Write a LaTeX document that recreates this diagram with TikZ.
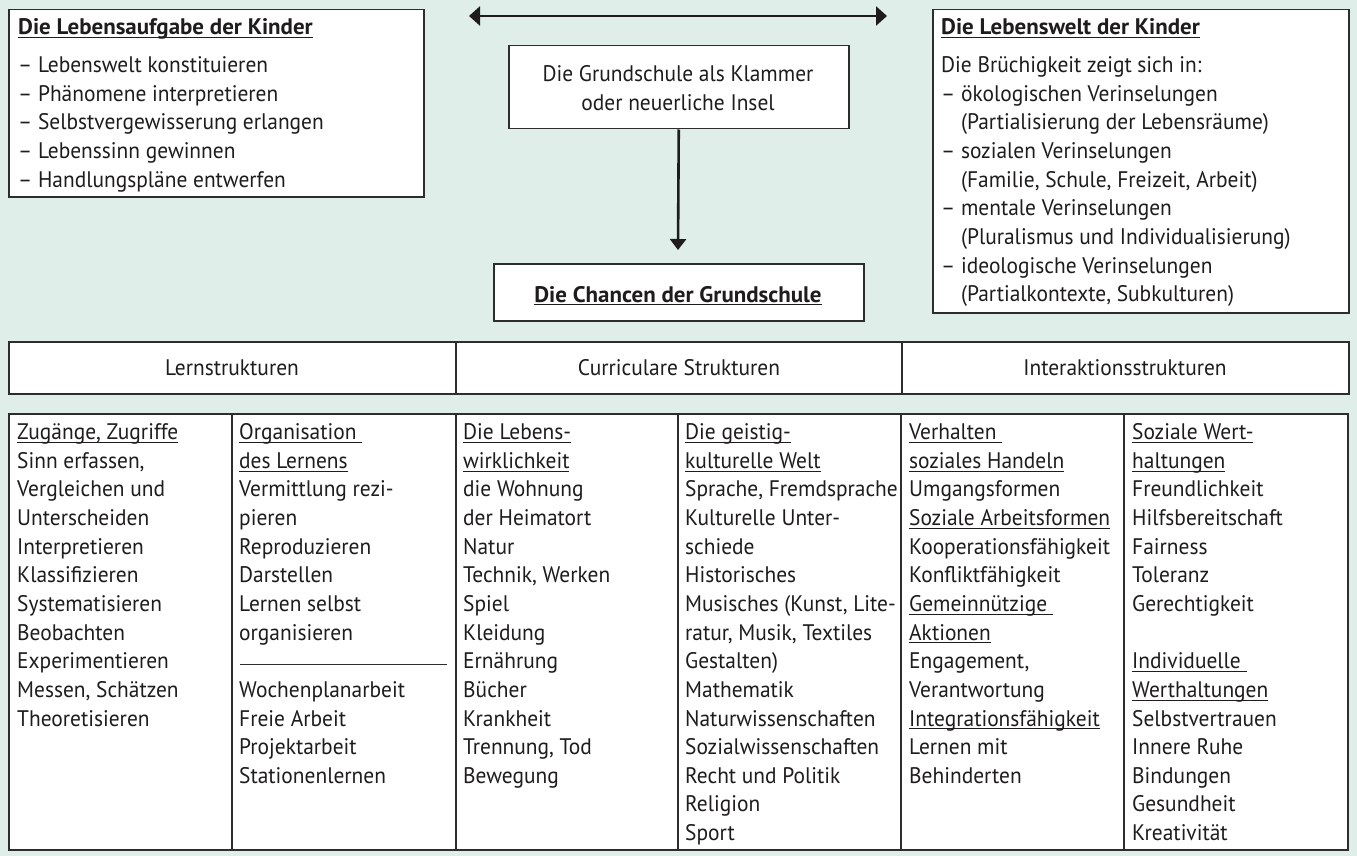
\documentclass[tikz,border=0pt]{standalone}
\usepackage{fontspec}
\setmainfont{PT Sans}[FakeStretch=0.952, BoldFeatures={FakeStretch=1.02}]
\usetikzlibrary{arrows.meta}
\definecolor{bg}{RGB}{223,238,232}
\definecolor{ink}{RGB}{30,28,28}
\definecolor{rulec}{RGB}{45,45,45}
\newsavebox\ulbox
\newcommand\ulin[1]{\sbox\ulbox{#1}\rlap{\rule[-3.3pt]{\wd\ulbox}{0.9pt}}\usebox\ulbox}
\newcommand\fs{\fontsize{22.5}{28.65}\selectfont}
\tikzset{
  box/.style={draw=rulec, line width=1.5pt, fill=white, inner sep=0, anchor=north west},
  txt/.style={inner sep=0, anchor=base west, text=ink, font=\fs},
  ctxt/.style={inner sep=0, anchor=base, text=ink, font=\fs},
  arr/.style={draw=ink, line width=2.6pt},
  sep/.style={draw=rulec, line width=1.3pt}
}
\begin{document}
\begin{tikzpicture}[x=1pt,y=-1pt]
\fill[bg] (0,0) rectangle (1357,856);
\useasboundingbox (0,0) rectangle (1357,856);

% top left box
\node[box, minimum width=415, minimum height=187] (lb) at (8,9) {};
\node[txt] (lbt) at (18,35) {\begin{tabular}[t]{@{}l@{}}
\textbf{\ulin{Die Lebensaufgabe der Kinder}}\\[9pt]
– Lebenswelt konstituieren\\
– Phänomene interpretieren\\
– Selbstvergewisserung erlangen\\
– Lebenssinn gewinnen\\
– Handlungspläne entwerfen
\end{tabular}};

% top right box
\node[box, minimum width=416, minimum height=303] (rb) at (932,9) {};
\node[txt] (rbt) at (941,35) {\begin{tabular}[t]{@{}l@{}}
\textbf{\ulin{Die Lebenswelt der Kinder}}\\[9pt]
Die Brüchigkeit zeigt sich in:\\
– ökologischen Verinselungen\\
\phantom{– }(Partialisierung der Lebensräume)\\
– sozialen Verinselungen\\
\phantom{– }(Familie, Schule, Freizeit, Arbeit)\\
– mentale Verinselungen\\
\phantom{– }(Pluralismus und Individualisierung)\\
– ideologische Verinselungen\\
\phantom{– }(Partialkontexte, Subkulturen)
\end{tabular}};

% middle
\node[box, minimum width=340, minimum height=83] (mb) at (508,45) {};
\node[ctxt] (mbt) at (678,82) {\begin{tabular}[t]{@{}c@{}}
Die Grundschule als Klammer\\
oder neuerliche Insel
\end{tabular}};
\node[box, minimum width=370, minimum height=57] (cb) at (493,263) {};
\node[ctxt] (cbt) at (678,302) {\textbf{\ulin{Die Chancen der Grundschule}}};

\coordinate (al) at (469,16);
\coordinate (ar) at (887,16);
\coordinate (ad) at (678,250);
\draw[arr, {Triangle[length=11pt,width=19pt]}-{Triangle[length=11pt,width=19pt]}] (al) -- (ar);
\draw[arr, -{Triangle[length=11pt,width=16pt]}] (mb.south) -- (ad);

% header row
\node[box, minimum width=1340, minimum height=52] (hd) at (8,341) {};
\draw[sep] (456,341) -- (456,393);
\draw[sep] (902,341) -- (902,393);
\node[ctxt] (h1) at (232,375) {Lernstrukturen};
\node[ctxt] (h2) at (679,375) {Curriculare Strukturen};
\node[ctxt] (h3) at (1125,375) {Interaktionsstrukturen};

% bottom table
\node[box, minimum width=1339, minimum height=436] (tb) at (8,413) {};
\foreach \xx in {232,456,678,901,1124} \draw[sep] (\xx,413) -- (\xx,849);
\draw[draw=rulec, line width=1pt] (240,664) -- (447,664);

\node[txt] (c1) at (17,439.5) {\begin{tabular}[t]{@{}l@{}}
\ulin{Zugänge, Zugriffe}\\
Sinn erfassen,\\
Vergleichen und\\
Unterscheiden\\
Interpretieren\\
Klassifizieren\\
Systematisieren\\
Beobachten\\
Experimentieren\\
Messen, Schätzen\\
Theoretisieren
\end{tabular}};

\node[txt] (c2) at (239,439.5) {\begin{tabular}[t]{@{}l@{}}
\ulin{Organisation\ }\\
\ulin{des Lernens}\\
Vermittlung rezi-\\
pieren\\
Reproduzieren\\
Darstellen\\
Lernen selbst\\
organisieren\\
\\
Wochenplanarbeit\\
Freie Arbeit\\
Projektarbeit\\
Stationenlernen
\end{tabular}};

\node[txt] (c3) at (463,439.5) {\begin{tabular}[t]{@{}l@{}}
\ulin{Die Lebens-}\\
\ulin{wirklichkeit}\\
die Wohnung\\
der Heimatort\\
Natur\\
Technik, Werken\\
Spiel\\
Kleidung\\
Ernährung\\
Bücher\\
Krankheit\\
Trennung, Tod\\
Bewegung
\end{tabular}};

\node[txt] (c4) at (685,439.5) {\begin{tabular}[t]{@{}l@{}}
\ulin{Die geistig-}\\
\ulin{kulturelle Welt}\\
Sprache, Fremdsprache\\
Kulturelle Unter-\\
schiede\\
Historisches\\
Musisches (Kunst, Lite-\\
ratur, Musik, Textiles\\
Gestalten)\\
Mathematik\\
Naturwissenschaften\\
Sozialwissenschaften\\
Recht und Politik\\
Religion\\
Sport
\end{tabular}};

\node[txt] (c5) at (909,439.5) {\begin{tabular}[t]{@{}l@{}}
\ulin{Verhalten\ }\\
\ulin{soziales Handeln}\\
Umgangsformen\\
\ulin{Soziale Arbeitsformen}\\
Kooperationsfähigkeit\\
Konfliktfähigkeit\\
\ulin{Gemeinnützige\ }\\
\ulin{Aktionen}\\
Engagement,\\
Verantwortung\\
\ulin{Integrationsfähigkeit}\\
Lernen mit\\
Behinderten
\end{tabular}};

\node[txt] (c6) at (1132,439.5) {\begin{tabular}[t]{@{}l@{}}
\ulin{Soziale Wert-}\\
\ulin{haltungen}\\
Freundlichkeit\\
Hilfsbereitschaft\\
Fairness\\
Toleranz\\
Gerechtigkeit\\
\\
\ulin{Individuelle\ }\\
\ulin{Werthaltungen}\\
Selbstvertrauen\\
Innere Ruhe\\
Bindungen\\
Gesundheit\\
Kreativität
\end{tabular}};
\end{tikzpicture}
\end{document}
